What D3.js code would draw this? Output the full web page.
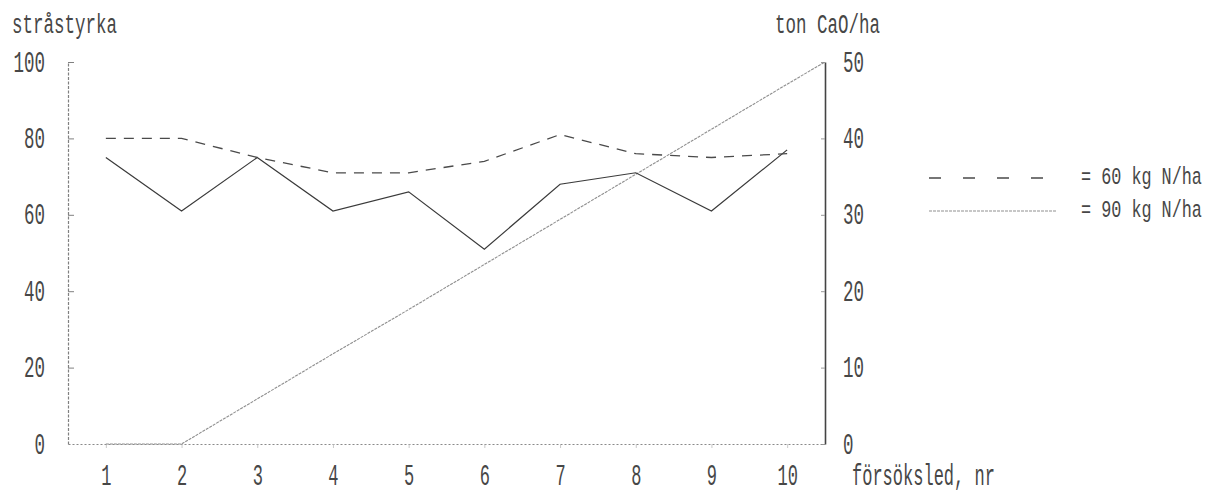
<!DOCTYPE html>
<html>
<head>
<meta charset="utf-8">
<script src="https://cdn.jsdelivr.net/npm/d3@7/dist/d3.min.js"></script>
<style>
  html, body { margin: 0; padding: 0; background: #fff; }
  svg { display: block; }
</style>
</head>
<body>
<svg id="chart" width="1223" height="495"></svg>
<script>
// ---------- data ----------
const categories = [1, 2, 3, 4, 5, 6, 7, 8, 9, 10];
const n60 = [80, 80, 75, 71, 71, 74, 81, 76, 75, 76];      // stråstyrka, 60 kg N/ha (dashed)
const n90 = [75, 61, 75, 61, 66, 51, 68, 71, 61, 77];      // stråstyrka, 90 kg N/ha (solid)
const lime = [0, 0, 5.9, 11.8, 17.6, 23.5, 29.4, 35.3, 41.2, 47.1]; // ton CaO/ha
const limeEnd = 50;                                        // CaO value where the line meets the right axis
const leftTicks = [0, 20, 40, 60, 80, 100];
const rightTicks = [0, 10, 20, 30, 40, 50];
const legendLabels = ["= 60 kg N/ha", "= 90 kg N/ha"];
const leftTitle = "stråstyrka";
const rightTitle = "ton CaO/ha";
const xTitle = "försöksled, nr";

// ---------- layout ----------
const FONT = "'Liberation Mono', 'DejaVu Sans Mono', monospace";
const SX = 0.76, SY = 1.32;
const INK = "#474747";
const svg = d3.select("#chart");
const mLeft = 68, mRight = 825, mTop = 62, mBottom = 444;

const x = d3.scaleLinear().domain([0.5, 10.5]).range([mLeft, mRight]);
const yL = d3.scaleLinear().domain([0, 100]).range([mBottom, mTop]);
const yR = d3.scaleLinear().domain([0, 50]).range([mBottom, mTop]);

function styleText(g, size, sx, sy) {
  g.selectAll("text").each(function () {
    const t = d3.select(this);
    const tx = +t.attr("x") || 0, ty = +t.attr("y") || 0;
    t.attr("x", tx / sx).attr("y", ty / sy)
     .attr("transform", `scale(${sx},${sy})`)
     .style("font-family", FONT).style("font-size", size + "px")
     .attr("fill", INK);
  });
}

function label(txt, px, py, size, sx, sy, anchor) {
  svg.append("text")
    .attr("transform", `translate(${px},${py}) scale(${sx},${sy})`)
    .attr("text-anchor", anchor || "start")
    .style("font-family", FONT).style("font-size", size + "px")
    .attr("fill", INK)
    .text(txt);
}

// ---------- axes ----------
const gL = svg.append("g").attr("transform", `translate(${mLeft},0)`)
  .call(d3.axisLeft(yL).tickValues(leftTicks).tickSize(-6).tickPadding(23).tickSizeOuter(0));
gL.select(".domain").attr("stroke", "#808080").attr("stroke-width", 1.2).attr("stroke-dasharray", "3,1.5");
gL.selectAll(".tick line").attr("stroke", "#808080").attr("stroke-width", 1);
gL.selectAll(".tick").filter(d => d === 0).select("line").remove();
styleText(gL, 23, SX, SY);
gL.selectAll("text").attr("dy", "0.3em");

const gR = svg.append("g").attr("transform", `translate(${mRight},0)`)
  .call(d3.axisRight(yR).tickValues(rightTicks).tickSize(-4).tickPadding(18).tickSizeOuter(0));
gR.select(".domain").attr("stroke", "#444").attr("stroke-width", 1.6);
gR.selectAll(".tick line").attr("stroke", "#999").attr("stroke-width", 1);
styleText(gR, 23, SX, SY);
gR.selectAll("text").attr("dy", "0.3em");

const gB = svg.append("g").attr("transform", `translate(0,${mBottom})`)
  .call(d3.axisBottom(x).tickValues(categories).tickFormat(d3.format("d")).tickSize(4).tickPadding(19).tickSizeOuter(0));
gB.select(".domain").attr("stroke", "#8a8a8a").attr("stroke-width", 1.1).attr("stroke-dasharray", "2,2");
gB.selectAll(".tick line").attr("stroke", "#bbb").attr("stroke-width", 0.8);
styleText(gB, 23, 0.74, 1.32);
gB.selectAll("text").attr("dy", "0.6em");

// ---------- titles ----------
label(leftTitle, 12, 33, 23, SX, 1.2);
label(rightTitle, 775, 33, 23, SX, 1.2);
label(xTitle, 852, 485, 23, 0.74, 1.25);

// ---------- lines ----------
const pts60 = categories.map((c, i) => [c, n60[i]]);
const pts90 = categories.map((c, i) => [c, n90[i]]);
const ptsLime = categories.map((c, i) => [c, lime[i]]).concat([[x.domain()[1], limeEnd]]);

const lineL = d3.line().x(d => x(d[0])).y(d => yL(d[1]));
const lineR = d3.line().x(d => x(d[0])).y(d => yR(d[1]));

svg.append("path").datum(ptsLime).attr("d", lineR)
  .attr("fill", "none").attr("stroke", "#8f8f8f").attr("stroke-width", 1.1)
  .attr("stroke-dasharray", "3,1");

svg.append("path").datum(pts90).attr("d", lineL)
  .attr("fill", "none").attr("stroke", "#3a3a3a").attr("stroke-width", 1.2);

svg.append("path").datum(pts60).attr("d", lineL)
  .attr("fill", "none").attr("stroke", "#4a4a4a").attr("stroke-width", 1.3)
  .attr("stroke-dasharray", "10,8");

// ---------- legend ----------
const legY = [178, 211];
const lg = svg.append("g");
lg.append("line").attr("x1", 929).attr("x2", 1056).attr("y1", legY[0]).attr("y2", legY[0])
  .attr("stroke", "#4a4a4a").attr("stroke-width", 1.3).attr("stroke-dasharray", "12,22");
lg.append("line").attr("x1", 929).attr("x2", 1057).attr("y1", legY[1]).attr("y2", legY[1])
  .attr("stroke", "#8f8f8f").attr("stroke-width", 1.1).attr("stroke-dasharray", "3,1");
legendLabels.forEach((t, i) => label(t, 1081, legY[i] + 6, 21, 0.8, 1.1));
</script>
</body>
</html>
